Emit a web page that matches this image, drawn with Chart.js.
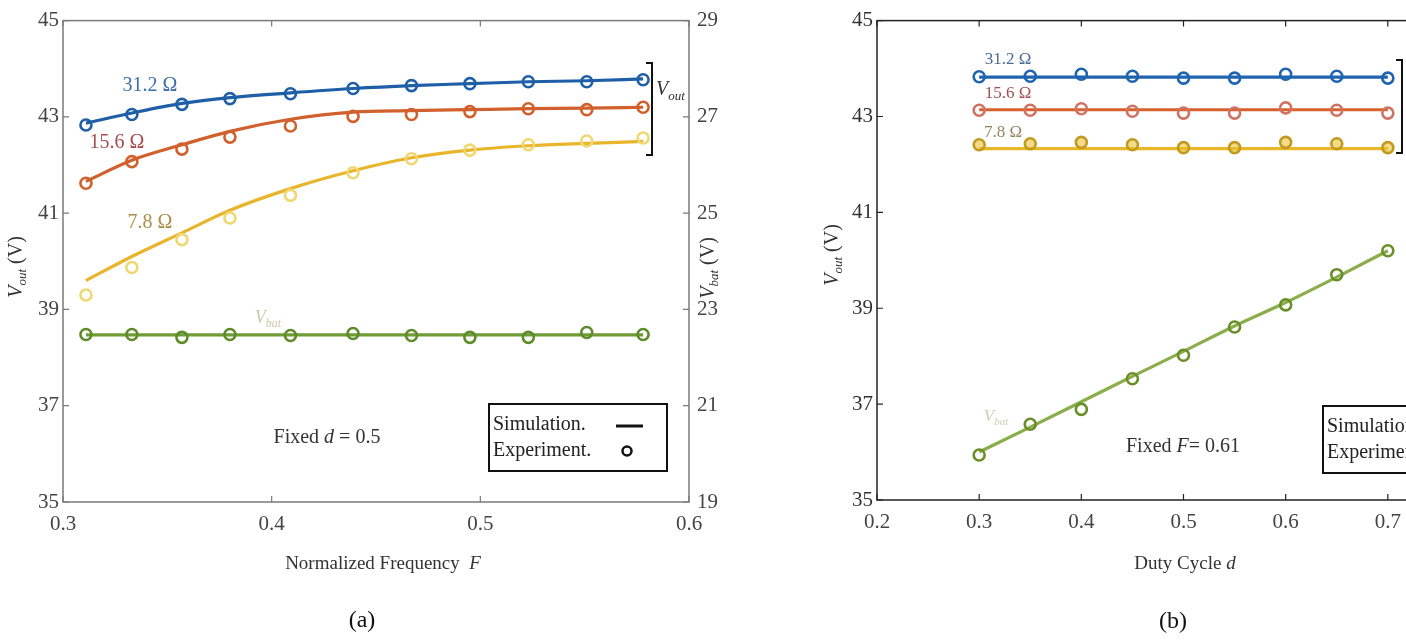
<!DOCTYPE html>
<html>
<head>
<meta charset="utf-8">
<script src="https://cdn.jsdelivr.net/npm/chart.js@4.4.1/dist/chart.umd.min.js"></script>
<style>
html, body { margin: 0; padding: 0; background: #fff; overflow: hidden; width: 1406px; height: 642px; }
#chartA { position: absolute; left: 0; top: 0; }
#chartB { position: absolute; left: 790px; top: 0; }
</style>
</head>
<body>
<canvas id="chartA" width="740" height="642"></canvas>
<canvas id="chartB" width="800" height="642"></canvas>
<script>
// (a) fixed d = 0.5, sweep of normalized frequency F
const freqF = [0.311, 0.333, 0.357, 0.380, 0.409, 0.439, 0.467, 0.495, 0.523, 0.551, 0.578];
const simA_31 = [42.87, 43.08, 43.28, 43.40, 43.50, 43.59, 43.65, 43.69, 43.73, 43.75, 43.79];
const expA_31 = [42.83, 43.05, 43.26, 43.38, 43.48, 43.59, 43.65, 43.69, 43.73, 43.73, 43.77];
const simA_15 = [41.66, 42.10, 42.42, 42.70, 42.95, 43.10, 43.13, 43.15, 43.17, 43.18, 43.20];
const expA_15 = [41.62, 42.07, 42.33, 42.58, 42.81, 43.01, 43.05, 43.11, 43.17, 43.15, 43.20];
const simA_7 = [39.60, 40.10, 40.59, 41.06, 41.51, 41.88, 42.15, 42.31, 42.40, 42.45, 42.49];
const expA_7 = [39.30, 39.87, 40.45, 40.90, 41.37, 41.84, 42.13, 42.31, 42.42, 42.50, 42.56];
const simA_bat = [22.47, 22.47, 22.47, 22.47, 22.47, 22.47, 22.47, 22.47, 22.47, 22.47, 22.47];
const expA_bat = [22.48, 22.48, 22.42, 22.48, 22.46, 22.50, 22.46, 22.42, 22.42, 22.52, 22.48];

// (b) fixed F = 0.61, sweep of duty cycle d
const dutyD = [0.30, 0.35, 0.40, 0.45, 0.50, 0.55, 0.60, 0.65, 0.70];
const simB_31 = [43.82, 43.82, 43.82, 43.82, 43.82, 43.82, 43.82, 43.82, 43.82];
const expB_31 = [43.83, 43.84, 43.88, 43.84, 43.80, 43.80, 43.88, 43.84, 43.80];
const simB_15 = [43.14, 43.14, 43.14, 43.14, 43.14, 43.14, 43.14, 43.14, 43.14];
const expB_15 = [43.13, 43.13, 43.16, 43.11, 43.07, 43.07, 43.18, 43.13, 43.07];
const simB_7 = [42.33, 42.33, 42.33, 42.33, 42.33, 42.33, 42.33, 42.33, 42.33];
const expB_7 = [42.41, 42.43, 42.46, 42.41, 42.35, 42.35, 42.46, 42.43, 42.35];
const simB_bat = [20.00, 20.52, 21.05, 21.58, 22.10, 22.63, 23.12, 23.65, 24.20];
const expB_bat = [19.94, 20.58, 20.89, 21.53, 22.02, 22.61, 23.07, 23.70, 24.20];

const SERIF = '"Liberation Serif", "DejaVu Serif", serif';

function pts(xs, ys) {
    return xs.map((x, i) => ({ x: x, y: ys[i] }));
}

function simLine(xs, ys, color, axis) {
    return {
        type: 'line', data: pts(xs, ys), yAxisID: axis || 'y',
        borderColor: color, borderWidth: 3.2, pointRadius: 0,
        cubicInterpolationMode: 'monotone', fill: false, order: 2
    };
}

function expPts(xs, ys, color, fillCol, axis) {
    return {
        type: 'line', data: pts(xs, ys), yAxisID: axis || 'y', showLine: false,
        pointRadius: 5.5, pointBorderWidth: 2.6, pointBorderColor: color,
        pointBackgroundColor: fillCol || 'rgba(255,255,255,0)', order: 1
    };
}

// draws a label made of parts (italic base, subscript ...) centred on cx, cy
function richText(ctx, cx, cy, parts, rot, align) {
    ctx.save();
    ctx.translate(cx, cy);
    if (rot) ctx.rotate(rot);
    let total = 0;
    parts.forEach(p => {
        ctx.font = (p.italic ? 'italic ' : '') + p.size + 'px ' + SERIF;
        p.w = ctx.measureText(p.t).width;
        total += p.w;
    });
    let x = align === 'left' ? 0 : -total / 2;
    ctx.textBaseline = 'alphabetic';
    ctx.textAlign = 'left';
    parts.forEach(p => {
        ctx.font = (p.italic ? 'italic ' : '') + p.size + 'px ' + SERIF;
        ctx.fillStyle = p.color;
        ctx.fillText(p.t, x, p.dy || 0);
        x += p.w;
    });
    ctx.restore();
}

function drawFrame(chart, frameColor, rightTicks) {
    const ctx = chart.ctx;
    const a = chart.chartArea;
    const sx = chart.scales.x, sy = chart.scales.y, sy1 = chart.scales.y1;
    ctx.save();
    ctx.strokeStyle = frameColor;
    ctx.lineWidth = 1.5;
    ctx.strokeRect(a.left, a.top, a.right - a.left, a.bottom - a.top);
    ctx.lineWidth = 1.2;
    ctx.beginPath();
    sx.ticks.forEach(t => {
        const px = sx.getPixelForValue(t.value);
        ctx.moveTo(px, a.bottom); ctx.lineTo(px, a.bottom - 6);
        ctx.moveTo(px, a.top); ctx.lineTo(px, a.top + 6);
    });
    sy.ticks.forEach(t => {
        const py = sy.getPixelForValue(t.value);
        ctx.moveTo(a.left, py); ctx.lineTo(a.left + 6, py);
    });
    if (rightTicks) {
        sy1.ticks.forEach(t => {
            const py = sy1.getPixelForValue(t.value);
            ctx.moveTo(a.right, py); ctx.lineTo(a.right - 6, py);
        });
    }
    ctx.stroke();
    ctx.restore();
}

function drawLegend(ctx, x, y, w, h, size) {
    ctx.save();
    ctx.fillStyle = '#fff';
    ctx.fillRect(x, y, w, h);
    ctx.strokeStyle = '#111';
    ctx.lineWidth = 2;
    ctx.strokeRect(x, y, w, h);
    ctx.fillStyle = '#222';
    ctx.font = size + 'px ' + SERIF;
    ctx.textBaseline = 'middle';
    ctx.textAlign = 'left';
    ctx.fillText('Simulation.', x + 4, y + 21);
    ctx.fillText('Experiment.', x + 4, y + 47);
    ctx.lineWidth = 3;
    ctx.beginPath();
    ctx.moveTo(x + 127, y + 22); ctx.lineTo(x + 154, y + 22);
    ctx.stroke();
    ctx.lineWidth = 2.5;
    ctx.beginPath();
    ctx.arc(x + 138, y + 47, 4.5, 0, Math.PI * 2);
    ctx.stroke();
    ctx.restore();
}

function drawBracket(ctx, x, top, bottom) {
    ctx.save();
    ctx.strokeStyle = '#111';
    ctx.lineWidth = 2;
    ctx.beginPath();
    ctx.moveTo(x - 6, top); ctx.lineTo(x, top); ctx.lineTo(x, bottom); ctx.lineTo(x - 6, bottom);
    ctx.stroke();
    ctx.restore();
}

const decorA = {
    id: 'decorA',
    afterDraw(chart) {
        const ctx = chart.ctx, a = chart.chartArea;
        const sx = chart.scales.x, sy = chart.scales.y;
        drawFrame(chart, '#7a7a7a', true);
        const X = v => sx.getPixelForValue(v), Y = v => sy.getPixelForValue(v);
        richText(ctx, X(0.3417), Y(43.69) + 7, [{ t: '31.2 Ω', size: 20, color: '#3d6da5' }]);
        richText(ctx, X(0.3259), Y(42.50) + 7, [{ t: '15.6 Ω', size: 20, color: '#a84c4c' }]);
        richText(ctx, X(0.3417), Y(40.84) + 7, [{ t: '7.8 Ω', size: 20, color: '#a9904a' }]);
        richText(ctx, X(0.3982), Y(38.83) + 5, [
            { t: 'V', size: 18, italic: true, color: '#c9c9a6' },
            { t: 'bat', size: 12, italic: true, color: '#c9c9a6', dy: 4 }]);
        richText(ctx, X(0.4265), Y(36.37) + 7, [
            { t: 'Fixed ', size: 20, color: '#333' },
            { t: 'd', size: 20, italic: true, color: '#333' },
            { t: ' = 0.5', size: 20, color: '#333' }]);
        drawLegend(ctx, 489, 404, 178, 67, 20);
        drawBracket(ctx, 652, 63, 155);
        ctx.save();
        ctx.beginPath();
        ctx.rect(a.left, 0, a.right - a.left, a.bottom);
        ctx.clip();
        richText(ctx, 656, 95, [
            { t: 'V', size: 20, italic: true, color: '#333' },
            { t: 'out', size: 13, italic: true, color: '#333', dy: 5 }], 0, 'left');
        ctx.restore();
        // axis titles and panel tag
        richText(ctx, 22, 267, [
            { t: 'V', size: 20, italic: true, color: '#333' },
            { t: 'out', size: 13, italic: true, color: '#333', dy: 4 },
            { t: ' (V)', size: 20, color: '#333' }], -Math.PI / 2);
        richText(ctx, 714, 268, [
            { t: 'V', size: 20, italic: true, color: '#333' },
            { t: 'bat', size: 13, italic: true, color: '#333', dy: 4 },
            { t: ' (V)', size: 20, color: '#333' }], -Math.PI / 2);
        richText(ctx, 383, 569, [
            { t: 'Normalized Frequency  ', size: 19, color: '#333' },
            { t: 'F', size: 19, italic: true, color: '#333' }]);
        richText(ctx, 362, 627, [{ t: '(a)', size: 24, color: '#111' }]);
    }
};

const decorB = {
    id: 'decorB',
    afterDraw(chart) {
        const ctx = chart.ctx;
        drawFrame(chart, '#222', true);
        const off = 790;
        richText(ctx, 1008 - off, 64, [{ t: '31.2 Ω', size: 17, color: '#4a6a95' }]);
        richText(ctx, 1008 - off, 98, [{ t: '15.6 Ω', size: 17, color: '#a05050' }]);
        richText(ctx, 1003 - off, 137, [{ t: '7.8 Ω', size: 17, color: '#948460' }]);
        richText(ctx, 996 - off, 421, [
            { t: 'V', size: 17, italic: true, color: '#cfcfb0' },
            { t: 'bat', size: 11, italic: true, color: '#cfcfb0', dy: 4 }]);
        richText(ctx, 1183 - off, 452, [
            { t: 'Fixed ', size: 20, color: '#333' },
            { t: 'F', size: 20, italic: true, color: '#333' },
            { t: '= 0.61', size: 20, color: '#333' }]);
        drawLegend(ctx, 1323 - off, 406, 178, 67, 20);
        drawBracket(ctx, 1402 - off, 60, 153);
        richText(ctx, 838 - off, 255, [
            { t: 'V', size: 20, italic: true, color: '#333' },
            { t: 'out', size: 13, italic: true, color: '#333', dy: 4 },
            { t: ' (V)', size: 20, color: '#333' }], -Math.PI / 2);
        richText(ctx, 1185 - off, 569, [
            { t: 'Duty Cycle ', size: 19, color: '#333' },
            { t: 'd', size: 19, italic: true, color: '#333' }]);
        richText(ctx, 1173 - off, 628, [{ t: '(b)', size: 24, color: '#111' }]);
    }
};

function axisOpts(min, max, step, width, color, digits, pos, pad) {
    return {
        type: 'linear', position: pos, min: min, max: max,
        afterFit: s => { if (pos === 'bottom') s.height = width; else s.width = width; },
        grid: { display: false, drawTicks: false }, border: { display: false },
        ticks: {
            stepSize: step, autoSkip: false, maxRotation: 0, padding: pad,
            color: color, font: { family: SERIF, size: 21 },
            callback: v => Number(v).toFixed(digits)
        }
    };
}

new Chart(document.getElementById('chartA'), {
    type: 'line',
    data: {
        datasets: [
            simLine(freqF, simA_31, '#1f5fa8'),
            expPts(freqF, expA_31, '#1f5fa8'),
            simLine(freqF, simA_15, '#d2602c'),
            expPts(freqF, expA_15, '#d2602c'),
            simLine(freqF, simA_7, '#e8b52c'),
            expPts(freqF, expA_7, '#f0d770'),
            simLine(freqF, simA_bat, '#6f9c34', 'y1'),
            expPts(freqF, expA_bat, '#5e8c2a', null, 'y1')
        ]
    },
    options: {
        responsive: false, animation: false,
        layout: { padding: { top: 14, left: 0, right: 0, bottom: 0 } },
        plugins: { legend: { display: false }, tooltip: { enabled: false } },
        scales: {
            x: axisOpts(0.3, 0.6, 0.1, 140, '#444', 1, 'bottom', 10),
            y: axisOpts(35, 45, 2, 63, '#444', 0, 'left', 4),
            y1: axisOpts(19, 29, 2, 51, '#444', 0, 'right', 8)
        }
    },
    plugins: [decorA]
});

new Chart(document.getElementById('chartB'), {
    type: 'line',
    data: {
        datasets: [
            simLine(dutyD, simB_31, '#1f64b0'),
            expPts(dutyD, expB_31, '#1f64b0'),
            simLine(dutyD, simB_15, '#d8602c'),
            expPts(dutyD, expB_15, '#cf7464'),
            simLine(dutyD, simB_7, '#e8b828'),
            expPts(dutyD, expB_7, '#c29a20', 'rgba(232,190,40,0.55)'),
            simLine(dutyD, simB_bat, '#8aae4a', 'y1'),
            expPts(dutyD, expB_bat, '#6a8f2a', null, 'y1')
        ]
    },
    options: {
        responsive: false, animation: false,
        layout: { padding: { top: 13, left: 0, right: 0, bottom: 0 } },
        plugins: { legend: { display: false }, tooltip: { enabled: false } },
        scales: {
            x: axisOpts(0.2, 0.8, 0.1, 142, '#444', 1, 'bottom', 10),
            y: axisOpts(35, 45, 2, 87, '#333', 0, 'left', 4),
            y1: axisOpts(19, 29, 2, 100, '#333', 0, 'right', 8)
        }
    },
    plugins: [decorB]
});
</script>
</body>
</html>
